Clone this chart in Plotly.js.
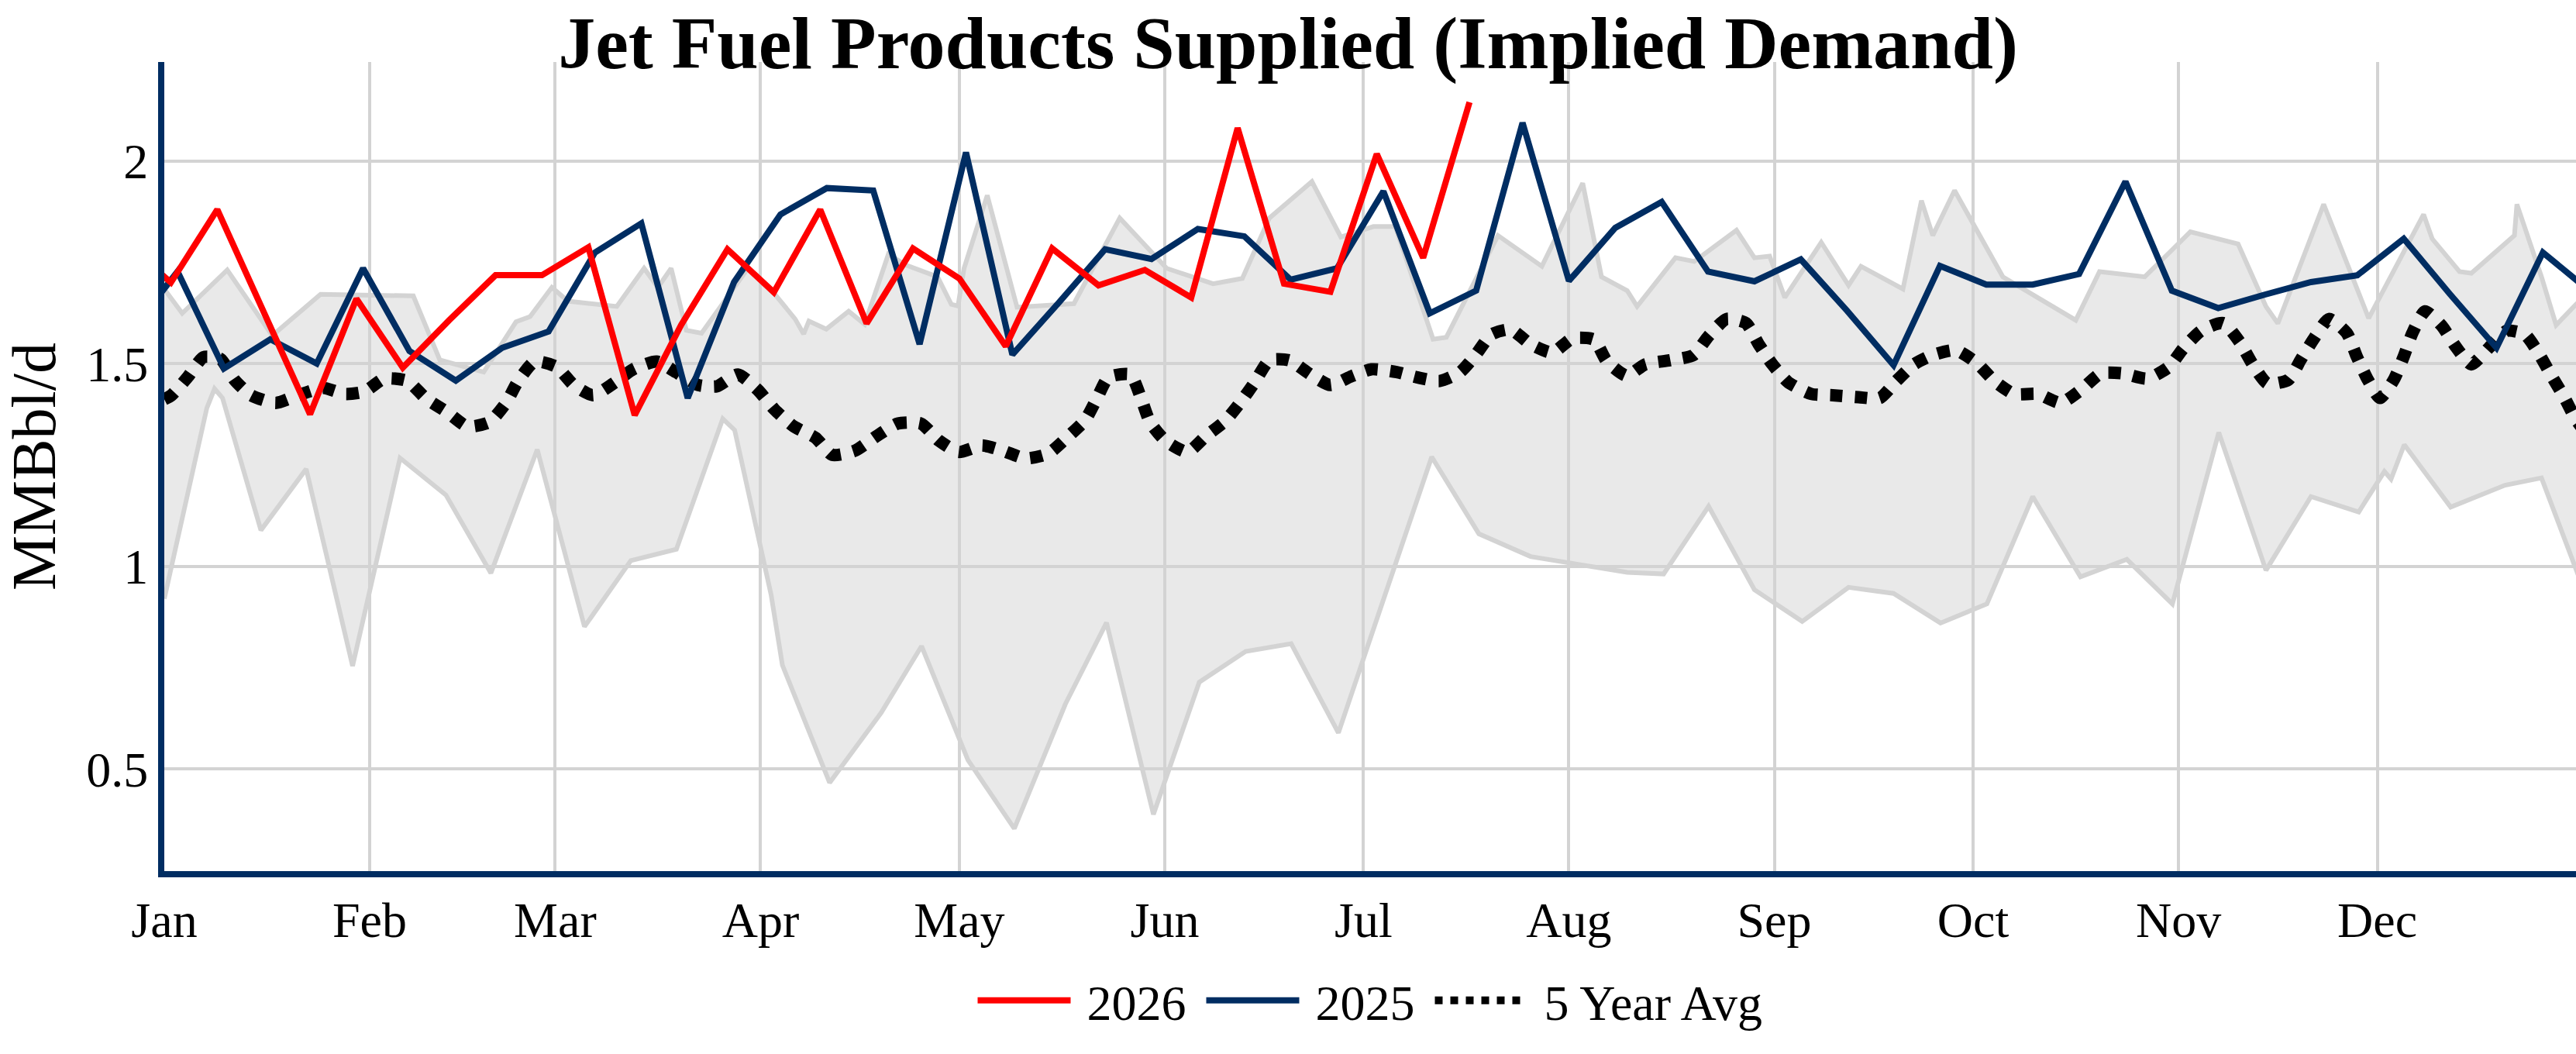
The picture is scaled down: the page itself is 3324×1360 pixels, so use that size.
<!DOCTYPE html>
<html>
<head>
<meta charset="utf-8">
<script src="https://cdn.plot.ly/plotly-3.0.1.min.js"></script>
<style>
  body { margin: 0; background: #fff; }
  #plot { width: 3324px; height: 1360px; }
</style>
</head>
<body>
<div id="plot"></div>
<script>
// weekly values, first and last points sit just outside Jan 1 - Dec 31
var vals2026 = [1.80, 1.70, 1.88, 1.624, 1.375, 1.66, 1.49, 1.607, 1.718, 1.718,
  1.787, 1.373, 1.595, 1.782, 1.676, 1.880, 1.599, 1.784, 1.710, 1.543,
  1.784, 1.693, 1.731, 1.663, 2.081, 1.697, 1.677, 2.017, 1.761, 2.145];
var start2026 = -6;

var vals2025 = [1.58, 1.727, 1.488, 1.560, 1.500, 1.735, 1.531, 1.458, 1.539, 1.579,
  1.774, 1.846, 1.415, 1.701, 1.868, 1.933, 1.927, 1.548, 2.021, 1.522,
  1.65, 1.782, 1.758, 1.832, 1.814, 1.707, 1.735, 1.925, 1.624, 1.680,
  2.094, 1.704, 1.835, 1.899, 1.727, 1.703, 1.757, 1.63, 1.496, 1.741,
  1.695, 1.695, 1.721, 1.949, 1.680, 1.637, 1.67, 1.701, 1.718, 1.808,
  1.671, 1.539, 1.774, 1.68];
var start2025 = -5;

// 5 year average (day of year -> value)
var avgDays = [0, 1.1, 3.5, 5.9, 8.5, 10.6, 13.1, 16.8, 20.2, 23.9,
  27.3, 30.2, 33.2, 36.7, 39.4, 42.7, 45.7, 49.0, 51.6, 53.3,
  55.9, 59.2, 61.8, 64.7, 67.8, 70.8, 74.3, 77.2, 80.6, 83.4,
  86.6, 89.6, 92.1, 95.0, 98.3, 100.8, 104.2, 107.4, 110.7, 114.2,
  116.9, 119.9, 123.4, 126.6, 130.0, 133.4, 136.2, 139.0, 140.8, 142.5,
  145.8, 147.4, 148.8, 151.1, 154.4, 157.2, 160.1, 162.5, 164.6, 166.8,
  169.8, 173.0, 176.0, 179.2, 182.2, 186.0, 189.1, 192.5, 195.6, 198.0,
  200.3, 203.2, 206.2, 209.5, 212.5, 215.8, 217.7, 220.7, 223.5, 227.2,
  230.8, 233.1, 235.8, 238.7, 240.7, 242.7, 245.1, 248.6, 251.8, 255.7,
  258.9, 261.4, 264.1, 266.9, 270.4, 273.6, 276.2, 279.2, 282.8, 286.2,
  289.5, 292.3, 295.5, 299.3, 302.6, 304.7, 307.4, 310.7, 313.3, 315.2,
  317.4, 320.6, 322.5, 324.6, 326.7, 329.4, 330.9, 332.6, 334.4, 336.5,
  338.1, 339.3, 341.2, 343.7, 345.8, 348.2, 350.9, 353.6, 356.3, 358.4,
  360.3, 362.3, 363.9, 365.9];
var avgVals = [1.412, 1.422, 1.466, 1.516, 1.511, 1.460, 1.422, 1.403, 1.422, 1.440,
  1.425, 1.431, 1.463, 1.457, 1.415, 1.380, 1.345, 1.355, 1.403, 1.454,
  1.505, 1.492, 1.447, 1.422, 1.451, 1.486, 1.505, 1.479, 1.447, 1.444,
  1.473, 1.435, 1.387, 1.345, 1.317, 1.275, 1.285, 1.320, 1.352, 1.352,
  1.310, 1.282, 1.298, 1.285, 1.266, 1.278, 1.317, 1.361, 1.415, 1.466,
  1.473, 1.415, 1.355, 1.310, 1.282, 1.321, 1.358, 1.406, 1.454, 1.508,
  1.508, 1.473, 1.447, 1.469, 1.486, 1.479, 1.466, 1.457, 1.479, 1.523,
  1.572, 1.584, 1.548, 1.527, 1.562, 1.559, 1.506, 1.470, 1.498, 1.508,
  1.521, 1.568, 1.610, 1.600, 1.546, 1.498, 1.454, 1.425, 1.422, 1.417,
  1.415, 1.457, 1.498, 1.521, 1.533, 1.501, 1.457, 1.425, 1.425, 1.403,
  1.438, 1.476, 1.476, 1.463, 1.492, 1.537, 1.581, 1.600, 1.552, 1.498,
  1.451, 1.460, 1.511, 1.565, 1.610, 1.575, 1.517, 1.460, 1.415, 1.460,
  1.521, 1.575, 1.629, 1.594, 1.543, 1.498, 1.540, 1.581, 1.572, 1.524,
  1.470, 1.415, 1.364, 1.32];

// 5 year range (max / min)
var maxDays = [0, 2.7, 9.5, 16.3, 23.6, 37.6, 41.6, 48.2, 53.1, 55.2,
  58.5, 60.9, 68.3, 72.4, 74.5, 76.5, 78.8, 81.1, 88.1, 92.2,
  95.2, 96.5, 97.3, 99.9, 103.3, 105.7, 109.3, 111.8, 116.7, 118.8,
  119.8, 120.7, 124.2, 128.7, 137.3, 144.2, 151.3, 158.3, 162.7, 166.8,
  173.2, 177.6, 182.5, 185.8, 191.5, 193.5, 201.3, 207.9, 214.1, 216.9,
  220.8, 222.3, 228.1, 230.9, 237.3, 240.0, 242.3, 244.6, 250.1, 254.2,
  256.1, 262.4, 265.2, 266.9, 270.2, 277.5, 288.5, 292.1, 298.9, 305.8,
  313.0, 317.2, 319.0, 325.9, 332.7, 341.0, 342.3, 346.4, 348.2, 354.7,
  355.1, 358.8, 361.0, 364.0, 366.0];
var maxVals = [1.684, 1.624, 1.731, 1.569, 1.671, 1.667, 1.509, 1.479, 1.603, 1.616,
  1.688, 1.654, 1.641, 1.735, 1.688, 1.735, 1.582, 1.575, 1.735, 1.67,
  1.610, 1.573, 1.605, 1.585, 1.629, 1.597, 1.770, 1.744, 1.714, 1.646,
  1.642, 1.735, 1.915, 1.639, 1.648, 1.859, 1.735, 1.697, 1.710, 1.859,
  1.949, 1.812, 1.838, 1.838, 1.560, 1.565, 1.816, 1.740, 1.945, 1.714,
  1.68, 1.641, 1.761, 1.752, 1.829, 1.761, 1.765, 1.663, 1.799, 1.693,
  1.740, 1.684, 1.902, 1.816, 1.927, 1.714, 1.607, 1.727, 1.714, 1.825,
  1.795, 1.641, 1.599, 1.893, 1.612, 1.868, 1.808, 1.727, 1.723, 1.816,
  1.893, 1.714, 1.595, 1.646, 1.68];

var minDays = [0, 6.4, 7.6, 8.8, 14.6, 21.4, 28.4, 35.6, 42.5, 49.3,
  56.3, 63.4, 70.4, 77.3, 84.3, 86.1, 91.6, 93.3, 100.4, 108.2,
  114.3, 121.3, 128.3, 136.0, 142.2, 149.3, 156.2, 163.2, 170.1, 177.2,
  191.3, 198.4, 206.2, 216.5, 220.8, 226.3, 233.1, 240.0, 247.2, 254.2,
  261.0, 268.1, 275.1, 282.0, 289.2, 296.2, 303.1, 310.1, 317.2, 324.0,
  331.2, 335.1, 336.1, 338.1, 345.1, 353.3, 358.8, 365.9];
var minVals = [0.92, 1.390, 1.438, 1.415, 1.089, 1.240, 0.754, 1.267, 1.176, 0.983,
  1.288, 0.851, 1.014, 1.042, 1.364, 1.336, 0.93, 0.756, 0.466, 0.639,
  0.803, 0.522, 0.353, 0.660, 0.861, 0.388, 0.714, 0.790, 0.809, 0.589,
  1.270, 1.080, 1.024, 0.998, 0.985, 0.981, 1.148, 0.942, 0.864, 0.948,
  0.933, 0.860, 0.907, 1.172, 0.974, 1.017, 0.907, 1.330, 0.990, 1.172,
  1.134, 1.234, 1.215, 1.300, 1.146, 1.200, 1.218, 0.91];

var navy = '#002d62';
var font = 'Liberation Serif, Times New Roman, serif';

// day of year (0 = Jan 1) on a common year
function dayToDate(d) {
  var t = new Date(Date.UTC(2025, 0, 1) + Math.round(d * 24) * 3600000);
  return t.toISOString().slice(0, 13).replace('T', ' ') + ':00';
}
function weekly(start, vals) {
  return vals.map(function(v, i) { return dayToDate(start + 7 * i); });
}

var band_lo = {
  type: 'scatter', mode: 'lines', name: 'Min', showlegend: false,
  x: minDays.map(dayToDate), y: minVals,
  line: {color: '#d3d3d3', width: 6}
};
var band_hi = {
  type: 'scatter', mode: 'lines', name: 'Max', showlegend: false,
  x: maxDays.map(dayToDate), y: maxVals,
  fill: 'tonexty', fillcolor: 'rgba(211,211,211,0.5)',
  line: {color: '#d3d3d3', width: 6}
};
// leading / trailing space keeps the legend gaps of the original
var avg = {
  type: 'scatter', mode: 'lines', name: ' 5 Year Avg',
  x: avgDays.map(dayToDate), y: avgVals,
  line: {color: '#000000', width: 16, dash: 'dot', shape: 'spline', smoothing: 0.6}
};
var trace2025 = {
  type: 'scatter', mode: 'lines', name: ' 2025 ',
  x: weekly(start2025, vals2025), y: vals2025,
  line: {color: navy, width: 8}
};
var trace2026 = {
  type: 'scatter', mode: 'lines', name: ' 2026 ',
  x: weekly(start2026, vals2026), y: vals2026,
  line: {color: '#ff0000', width: 8}
};

var layout = {
  width: 3324, height: 1360,
  margin: {l: 212, r: 0, t: 80, b: 236},
  paper_bgcolor: '#ffffff', plot_bgcolor: '#ffffff',
  font: {family: font, color: '#000000', size: 64},
  title: {
    text: 'Jet Fuel Products Supplied (Implied Demand)',
    font: {family: font, size: 96, weight: 700, color: '#000000'},
    x: 0.5, xanchor: 'center', y: 0.96, yanchor: 'middle'
  },
  xaxis: {
    type: 'date',
    range: [dayToDate(0), dayToDate(364)],
    tick0: '2025-01-01', dtick: 'M1', tickformat: '%b',
    showgrid: true, gridcolor: '#d3d3d3', gridwidth: 4,
    showline: true, linecolor: navy, linewidth: 8,
    zeroline: false, ticks: '',
    tickfont: {family: font, size: 64, color: '#000000'}
  },
  yaxis: {
    range: [0.248, 2.244],
    tick0: 0, dtick: 0.5,
    showgrid: true, gridcolor: '#d3d3d3', gridwidth: 4,
    showline: true, linecolor: navy, linewidth: 8,
    zeroline: false, ticks: '',
    tickfont: {family: font, size: 64, color: '#000000'},
    title: {text: 'MMBbl/d', font: {family: font, size: 80, color: '#000000'}, standoff: 30}
  },
  legend: {
    orientation: 'h', x: 0.5, xanchor: 'center', y: -0.16, yanchor: 'middle',
    traceorder: 'reversed', itemwidth: 120,
    font: {family: font, size: 64, color: '#000000'}
  },
  showlegend: true
};

Plotly.newPlot('plot', [band_lo, band_hi, avg, trace2025, trace2026], layout, {staticPlot: true, displayModeBar: false});
</script>
</body>
</html>
